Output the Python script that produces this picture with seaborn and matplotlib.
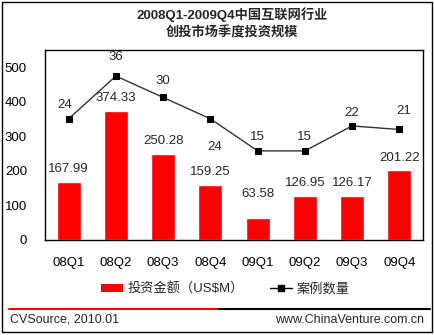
import matplotlib
matplotlib.use("Agg")
import matplotlib.pyplot as plt
import seaborn as sns
import pandas as pd
from matplotlib.lines import Line2D
from matplotlib.patches import Rectangle, Patch

quarters = ["08Q1", "08Q2", "08Q3", "08Q4", "09Q1", "09Q2", "09Q3", "09Q4"]
amounts = [167.99, 374.33, 250.28, 159.25, 63.58, 126.95, 126.17, 201.22]
counts = [24, 36, 30, 24, 15, 15, 22, 21]
yticks = [0, 100, 200, 300, 400, 500]
title_lines = ["2008Q1-2009Q4中国互联网行业", "创投市场季度投资规模"]
legend_labels = ["投资金额（US$M）", "案例数量"]
source_text = "CVSource, 2010.01"
site_text = "www.ChinaVenture.com.cn"

sns.set_style("white")
plt.rcParams['font.family'] = ['Liberation Sans', 'Noto Sans CJK SC', 'DejaVu Sans']

W, H = 435, 335
fig = plt.figure(figsize=(W / 100, H / 100), dpi=100)
fig.patch.set_facecolor("white")

def fx(px):
    return px / W

def fy(py):
    return 1 - py / H

ax = fig.add_axes([fx(45), fy(240), fx(423) - fx(45), fy(50) - fy(240)])
df = pd.DataFrame({"q": quarters, "amt": amounts, "cnt": counts})

sns.barplot(data=df, x="q", y="amt", color="#FF0000", saturation=1, width=0.51, ax=ax)
ax.set_ylim(0, 550)
ax.set_xlim(-0.5, len(quarters) - 0.5)
ax.set_yticks(yticks)
ax.set_yticklabels([str(v) for v in yticks])
ax.set_xlabel("")
ax.set_ylabel("")
ax.tick_params(axis="both", length=0, labelsize=9.5, colors="black")
ax.tick_params(axis="y", pad=13)
ax.tick_params(axis="x", pad=12)
for s in ax.spines.values():
    s.set_color("black")
    s.set_linewidth(1)

bar_label_offsets = [5, 5, 5, 5, 13, 5, 5, 5]
for i, (v, off) in enumerate(zip(amounts, bar_label_offsets)):
    ax.annotate(f"{v:.2f}", (i, v), xytext=(0, off), textcoords="offset points",
                ha="center", va="bottom", fontsize=9.5)

ax2 = ax.twinx()
sns.pointplot(data=df, x="q", y="cnt", color="black", markers="s", markersize=5,
              linewidth=1, errorbar=None, ax=ax2)
for ln in ax2.lines:
    ln.set_color("#333333")
    ln.set_markerfacecolor("black")
    ln.set_markeredgecolor("black")
ax2.set_ylim(-10, 43.3)
ax2.set_xlim(-0.5, len(quarters) - 0.5)
ax2.set_yticks([])
ax2.set_ylabel("")
ax2.set_xlabel("")
for s in ax2.spines.values():
    s.set_visible(False)

cnt_offsets = [(-3, 10), (0, 14), (0, 12), (3, -20), (0, 10), (0, 10), (0, 9), (3, 13)]
for i, (c, (dx, dy)) in enumerate(zip(counts, cnt_offsets)):
    ax2.annotate(str(c), (i, c), xytext=(dx, dy), textcoords="offset points",
                 ha="center", va="center", fontsize=9.5)

fig.text(fx(232), fy(15), title_lines[0], ha="center", va="center",
         fontsize=9.5, fontweight="bold")
fig.text(fx(232), fy(33), title_lines[1], ha="center", va="center",
         fontsize=9.5, fontweight="bold")

handles = [Patch(facecolor="#FF0000", edgecolor="none"),
           Line2D([0], [0], color="black", lw=1, marker="s", markersize=5)]
fig.legend(handles, legend_labels, loc="center", bbox_to_anchor=(fx(225), fy(289)),
           ncol=2, frameon=False, fontsize=9.5, handlelength=1.7, handleheight=0.5,
           columnspacing=2.0, handletextpad=0.3)

fig.add_artist(Line2D([fx(9), fx(219)], [fy(309), fy(309)], color="#FF0000", lw=1.5))
fig.add_artist(Line2D([fx(219), fx(430)], [fy(309), fy(309)], color="black", lw=1.5))
fig.text(fx(10), fy(320), source_text, ha="left", va="center", fontsize=9)
fig.text(fx(424), fy(320), site_text, ha="right", va="center", fontsize=9)

fig.add_artist(Rectangle((fx(2), fy(332)), fx(430), fy(2) - fy(332),
                         fill=False, edgecolor="black", lw=1, transform=fig.transFigure))

fig.savefig("out.png", dpi=100)
